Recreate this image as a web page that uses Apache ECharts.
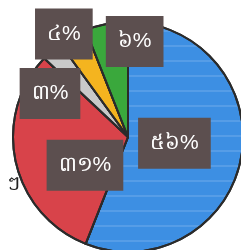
<!DOCTYPE html>
<html>
<head>
<meta charset="utf-8">
<script src="https://cdn.jsdelivr.net/npm/echarts@6/dist/echarts.min.js"></script>
<style>
  html, body { margin: 0; padding: 0; background: #fff; }
  #chart { width: 241px; height: 250px; }
</style>
</head>
<body>
<div id="chart"></div>
<script>
// 饼图数据（顺时针，从正上方开始）
const values = [56, 31, 3, 4, 6];
const labels = ["៥៦%", "៣១%", "៣%", "៤%", "៦%"];
const colors = ["#3d8fe3", "#d8434a", "#c9c9c9", "#f4b41f", "#3aa83c"];
// 标签框相对默认内侧位置的偏移
const labelShift = [[-13, -5], [16, 15], [-38, 2], [-35, -50], [18, -36]];

const chart = echarts.init(document.getElementById("chart"));
chart.setOption({
  animation: false,
  graphic: [
    {
      type: "text",
      left: 7,
      top: 174,
      style: { text: "ៗ", fontSize: 20, fill: "#222" },
    },
  ],
  series: [
    {
      type: "pie",
      center: [128, 137],
      radius: 115,
      startAngle: 90,
      clockwise: true,
      silent: true,
      itemStyle: { borderColor: "#2b2b2b", borderWidth: 2 },
      label: {
        show: true,
        position: "inside",
        color: "#fff",
        fontSize: 21,
        backgroundColor: "#5c4f4f",
        padding: [15, 12],
      },
      labelLine: { show: false },
      labelLayout: (p) => ({
        dx: labelShift[p.dataIndex][0],
        dy: labelShift[p.dataIndex][1],
      }),
      data: values.map((v, i) => ({
        value: v,
        name: labels[i],
        label: { formatter: labels[i] },
        itemStyle: {
          color: colors[i],
          // 蓝色扇区的浅色横纹
          decal: i === 0 ? {
            symbol: "rect",
            color: "rgba(255,255,255,0.13)",
            dashArrayX: [[1, 0]],
            dashArrayY: [2, 13],
            rotation: 0,
          } : { symbol: "none" },
        },
      })),
    },
  ],
});
</script>
</body>
</html>
